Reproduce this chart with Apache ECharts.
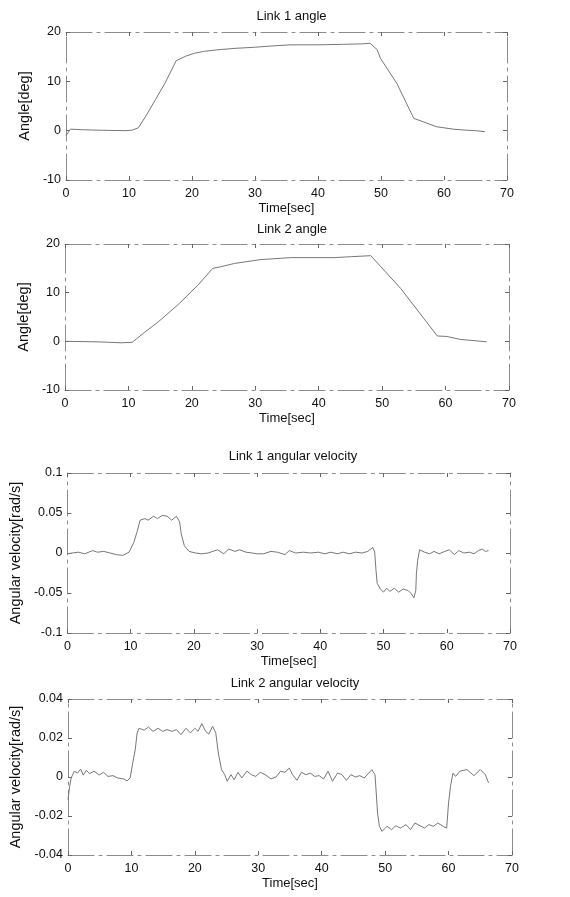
<!DOCTYPE html>
<html>
<head>
<meta charset="utf-8">
<title>Link angles and angular velocities</title>
<script src="https://cdn.jsdelivr.net/npm/echarts@6/dist/echarts.min.js"></script>
<style>
  html, body { margin: 0; padding: 0; background: #fff; }
  #chart { width: 570px; height: 897px; }
</style>
</head>
<body>
<div id="chart"></div>
<script>
// Shared time-axis ticks (seconds)
const timeTicks = [0, 10, 20, 30, 40, 50, 60, 70];

// Link 1 angle [deg]
const link1AngleT = [0, 0.7, 2.5, 5, 9.5, 10.5, 11.5, 12.8, 14.2, 15.7, 17.5, 19, 20.4, 22, 24.1, 27, 29.9, 33, 35.7, 40, 44, 47, 48.3, 49.4, 49.9, 52.5, 55.2, 56.7, 58.8, 61.5, 63.5, 65, 66.5];
const link1AngleV = [-1.0, 0.3, 0.2, 0.1, 0, 0.1, 0.6, 3.2, 6.3, 9.6, 14.2, 15.1, 15.7, 16.1, 16.4, 16.7, 16.9, 17.2, 17.4, 17.4, 17.5, 17.6, 17.7, 16.4, 14.7, 9.6, 2.5, 1.8, 0.8, 0.3, 0.1, 0, -0.2];

// Link 2 angle [deg]
const link2AngleT = [0, 5, 8.9, 10.6, 12.5, 14.7, 17.8, 21.0, 23.3, 24.5, 26.7, 30.9, 35.6, 42.4, 45.2, 48.2, 52.9, 58.7, 60.2, 62.3, 64, 66.5];
const link2AngleV = [0, -0.1, -0.3, -0.2, 1.8, 4.0, 7.5, 11.6, 15.0, 15.3, 16.0, 16.8, 17.2, 17.2, 17.4, 17.6, 10.9, 1.1, 1.0, 0.4, 0.2, -0.1];

// Link 1 angular velocity [rad/s]
const link1VelT = [0, 0.75, 1.75, 2.75, 4.0, 4.75, 5.75, 6.75, 7.75, 8.75, 9.75, 10.5, 11.0, 11.5, 12.25, 12.75, 13.65, 14.25, 15.0, 15.75, 16.5, 17.25, 17.75, 18.0, 18.5, 19.25, 20.25, 21.25, 22.25, 23.75, 24.75, 25.5, 26.5, 27.25, 28.25, 29.25, 30.0, 31.0, 32.2, 33.2, 34.4, 35.1, 36.1, 37.3, 38.5, 39.7, 40.7, 41.7, 42.7, 43.6, 44.6, 45.6, 46.6, 47.5, 48.3, 48.6, 48.8, 49.0, 49.5, 50.0, 50.5, 51.0, 51.7, 52.4, 53.1, 53.9, 54.4, 54.8, 55.1, 55.2, 55.4, 55.7, 56.5, 57.3, 58.0, 58.8, 59.7, 60.4, 61.2, 61.9, 62.7, 63.6, 64.3, 65.0, 65.6, 66.1, 66.6];
const link1VelV = [-0.001, 0.000, 0.001, -0.001, 0.003, 0.001, 0.002, 0.000, -0.002, -0.003, 0.001, 0.013, 0.026, 0.041, 0.043, 0.041, 0.046, 0.043, 0.047, 0.046, 0.041, 0.046, 0.039, 0.024, 0.009, 0.002, 0.000, -0.001, 0.000, 0.004, -0.001, 0.005, 0.002, 0.004, 0.001, 0.000, -0.001, -0.001, 0.002, 0.001, -0.002, 0.003, 0.000, 0.001, 0.000, 0.001, -0.001, 0.001, -0.001, 0.001, -0.001, 0.001, 0.000, 0.002, 0.007, 0.001, -0.021, -0.038, -0.045, -0.049, -0.044, -0.048, -0.044, -0.049, -0.045, -0.047, -0.051, -0.056, -0.047, -0.026, -0.009, 0.004, 0.001, -0.001, 0.002, -0.001, 0.002, 0.004, -0.002, 0.003, 0.000, 0.001, -0.001, 0.003, 0.005, 0.002, 0.003];

// Link 2 angular velocity [rad/s]
const link2VelT = [0, 0.25, 0.5, 1.0, 1.5, 2.0, 2.4, 2.9, 3.4, 4.1, 4.9, 5.6, 6.3, 7.1, 7.8, 8.8, 9.3, 9.8, 10.2, 10.6, 10.9, 11.2, 12.0, 12.7, 13.4, 14.2, 14.9, 15.6, 16.4, 17.1, 17.8, 18.6, 19.3, 20.0, 20.5, 21.1, 21.7, 22.2, 22.8, 23.3, 23.7, 24.2, 24.7, 25.1, 25.7, 26.2, 26.8, 27.4, 28.2, 28.9, 29.6, 30.3, 31.1, 32.0, 32.8, 33.5, 34.2, 34.9, 35.4, 36.1, 36.8, 37.5, 38.2, 38.9, 39.6, 40.3, 41.0, 41.7, 42.5, 43.2, 43.9, 44.6, 45.3, 46.0, 46.7, 47.4, 47.9, 48.4, 48.6, 48.8, 49.1, 49.5, 50.3, 51.0, 51.7, 52.4, 53.3, 54.0, 54.7, 55.5, 56.2, 56.9, 57.6, 58.3, 59.0, 59.7, 60.0, 60.3, 60.7, 61.1, 61.8, 62.9, 64.0, 65.0, 65.8, 66.3];
const link2VelV = [-0.0116, -0.005, -0.0005, 0.003, 0.002, 0.004, 0.001, 0.0034, 0.0017, 0.003, 0.001, 0.0024, 0.0003, 0.0007, -0.0005, -0.001, -0.002, -0.0005, 0.007, 0.014, 0.0226, 0.025, 0.024, 0.0256, 0.0234, 0.025, 0.0234, 0.0243, 0.0234, 0.0243, 0.0217, 0.025, 0.0226, 0.025, 0.0234, 0.0274, 0.0234, 0.022, 0.026, 0.0226, 0.0123, 0.0038, 0.0012, -0.0022, 0.0012, -0.0014, 0.0024, -0.0005, 0.003, 0.0012, 0.0003, 0.0024, 0.0012, -0.001, 0, 0.003, 0.0024, 0.0046, 0.0012, -0.0017, 0.0024, 0.0012, 0.002, 0.0003, 0.0007, -0.001, 0.003, -0.0022, 0.002, 0.0012, -0.0017, 0.0012, 0, 0.0007, -0.0005, 0.002, 0.0038, 0.0012, -0.0082, -0.0185, -0.0253, -0.0279, -0.0253, -0.027, -0.025, -0.0262, -0.0244, -0.027, -0.0236, -0.025, -0.0262, -0.0244, -0.0253, -0.0236, -0.025, -0.0262, -0.0133, -0.0048, 0.002, 0.0003, 0.003, 0.0038, 0.0007, 0.0038, 0.0012, -0.003];

// Panel titles and y-axis names
const panelTitles = ['Link 1 angle', 'Link 2 angle', 'Link 1 angular velocity', 'Link 2 angular velocity'];
const yNames = ['Angle[deg]', 'Angle[deg]', 'Angular velocity[rad/s]', 'Angular velocity[rad/s]'];
const xName = 'Time[sec]';

function zip(t, v) { return t.map((x, i) => [x, v[i]]); }

const panelData = [
  zip(link1AngleT, link1AngleV),
  zip(link2AngleT, link2AngleV),
  zip(link1VelT, link1VelV),
  zip(link2VelT, link2VelV)
];

// Layout of the four stacked axes boxes
const boxes = [
  { left: 66, right: 63, top: 32,  height: 148, titleTop: 5,   yGap: 33 },
  { left: 65, right: 61, top: 244, height: 146, titleTop: 218, yGap: 33 },
  { left: 66, right: 60, top: 473, height: 160, titleTop: 445, yGap: 40 },
  { left: 68, right: 58, top: 699, height: 156, titleTop: 672, yGap: 42 }
];
const yRanges = [
  { min: -10, max: 20, interval: 10 },
  { min: -10, max: 20, interval: 10 },
  { min: -0.1, max: 0.1, interval: 0.05 },
  { min: -0.04, max: 0.04, interval: 0.02 }
];

const FONT = 'Liberation Sans, Arial, sans-serif';
const TEXT = '#111';
const FRAME = '#8c8c8c';
const frameLine = { show: true, onZero: false, lineStyle: { color: FRAME, width: 1, type: [26, 5, 3, 5] } };
const tickIn = { show: true, inside: true, length: 4, lineStyle: { color: '#666', width: 1 } };

const grid = [], xAxis = [], yAxis = [], series = [], title = [];

boxes.forEach((b, i) => {
  grid.push({ left: b.left, right: b.right, top: b.top, height: b.height, containLabel: false });
  title.push({
    text: panelTitles[i],
    left: b.left + (570 - b.left - b.right) / 2,
    textAlign: 'center',
    top: b.titleTop,
    textStyle: { fontFamily: FONT, fontSize: 13, fontWeight: 'normal', color: TEXT }
  });
  // bottom time axis with labels
  xAxis.push({
    type: 'value', gridIndex: i, min: 0, max: 70, interval: 10, position: 'bottom',
    name: xName, nameLocation: 'middle', nameGap: 22,
    nameTextStyle: { fontFamily: FONT, fontSize: 13, color: TEXT },
    axisLine: frameLine, axisTick: tickIn,
    axisLabel: { fontFamily: FONT, fontSize: 12.5, color: TEXT, margin: 7 },
    splitLine: { show: false }
  });
  // mirrored top axis (box)
  xAxis.push({
    type: 'value', gridIndex: i, min: 0, max: 70, interval: 10, position: 'top',
    axisLine: frameLine, axisTick: tickIn, axisLabel: { show: false }, splitLine: { show: false }
  });
  const r = yRanges[i];
  yAxis.push({
    type: 'value', gridIndex: i, min: r.min, max: r.max, interval: r.interval, position: 'left',
    name: yNames[i], nameLocation: 'middle', nameGap: b.yGap,
    nameTextStyle: { fontFamily: FONT, fontSize: 14.5, color: TEXT },
    axisLine: frameLine, axisTick: tickIn,
    axisLabel: { fontFamily: FONT, fontSize: 12.5, color: TEXT, margin: 5 },
    splitLine: { show: false }
  });
  // mirrored right axis (box)
  yAxis.push({
    type: 'value', gridIndex: i, min: r.min, max: r.max, interval: r.interval, position: 'right',
    axisLine: frameLine, axisTick: tickIn, axisLabel: { show: false }, splitLine: { show: false }
  });
  series.push({
    type: 'line', xAxisIndex: 2 * i, yAxisIndex: 2 * i,
    data: panelData[i], showSymbol: false, symbol: 'none', smooth: false,
    lineStyle: { color: '#777', width: 1 }, animation: false
  });
});

const chart = echarts.init(document.getElementById('chart'), null, { renderer: 'canvas' });
chart.setOption({ backgroundColor: '#fff', animation: false, title, grid, xAxis, yAxis, series });
</script>
</body>
</html>
